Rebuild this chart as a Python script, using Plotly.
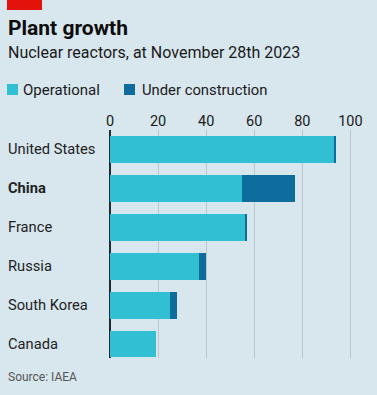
import plotly.graph_objects as go

countries = ["United States", "China", "France", "Russia", "South Korea", "Canada"]
operational = [93, 55, 56, 37, 25, 19]
under_construction = [1, 22, 1, 3, 3, 0]
tick_vals = [0, 20, 40, 60, 80, 100]

W, H = 377, 395
L, R, T, B = 110, 17, 130, 37
PW, PH = W - L - R, H - T - B
BG = "#d8e6ee"
C_OP = "#31c0d3"
C_UC = "#0e6d9d"
FONT = "Roboto"

def px(x):
    return (x - L) / PW

def py(y):
    return (H - B - y) / PH

fig = go.Figure()
fig.add_trace(go.Bar(y=countries, x=operational, orientation="h", name="Operational",
                     marker=dict(color=C_OP, line=dict(width=0)), showlegend=False))
fig.add_trace(go.Bar(y=countries, x=under_construction, orientation="h", name="Under construction",
                     marker=dict(color=C_UC, line=dict(width=0)), showlegend=False))

annotations = []
for c in countries:
    txt = f"<b>{c}</b>" if c == "China" else c
    annotations.append(dict(x=px(6), xref="paper", y=c, yref="y", text=txt, showarrow=False,
                            xanchor="left", yanchor="middle",
                            font=dict(family=FONT, size=14.7, color="#222")))

annotations += [
    dict(x=px(6), y=py(28), xref="paper", yref="paper", text="<b>Plant growth</b>", showarrow=False,
         xanchor="left", yanchor="middle", font=dict(family=FONT, size=21, color="#0d0d0d")),
    dict(x=px(6), y=py(53), xref="paper", yref="paper", text="Nuclear reactors, at November 28th 2023",
         showarrow=False, xanchor="left", yanchor="middle", font=dict(family=FONT, size=16, color="#1a1a1a")),
    dict(x=px(21), y=py(90), xref="paper", yref="paper", text="Operational", showarrow=False,
         xanchor="left", yanchor="middle", font=dict(family=FONT, size=15, color="#1a1a1a")),
    dict(x=px(140), y=py(90), xref="paper", yref="paper", text="Under construction", showarrow=False,
         xanchor="left", yanchor="middle", font=dict(family=FONT, size=14.8, color="#1a1a1a")),
    dict(x=px(6), y=py(377), xref="paper", yref="paper", text="Source: IAEA", showarrow=False,
         xanchor="left", yanchor="middle", font=dict(family=FONT, size=12, color="#555")),
]

shapes = [
    dict(type="rect", xref="paper", yref="paper", x0=px(7), x1=px(42), y0=py(0), y1=py(10),
         fillcolor="#e3120b", line=dict(width=0)),
    dict(type="rect", xref="paper", yref="paper", x0=px(7), x1=px(18), y0=py(84), y1=py(95),
         fillcolor=C_OP, line=dict(width=0)),
    dict(type="rect", xref="paper", yref="paper", x0=px(124), x1=px(135), y0=py(84), y1=py(95),
         fillcolor=C_UC, line=dict(width=0)),
]

fig.update_layout(
    width=W, height=H, barmode="stack", bargap=0.31,
    margin=dict(l=L, r=R, t=T, b=B, pad=0),
    paper_bgcolor=BG, plot_bgcolor=BG,
    annotations=annotations, shapes=shapes,
    xaxis=dict(side="top", range=[0, 104], tickvals=tick_vals, showgrid=True,
               gridcolor="#b9c7cf", gridwidth=1, zeroline=True, zerolinecolor="#1b2a33",
               zerolinewidth=1.5, ticks="", showline=False,
               tickfont=dict(family=FONT, size=14.5, color="#1a1a1a")),
    yaxis=dict(categoryorder="array", categoryarray=countries, range=[5.36, -0.5],
               showticklabels=False, showgrid=False, zeroline=False, ticks=""),
    font=dict(family=FONT),
)

fig.write_html("out.html", config={"displayModeBar": False},
               post_script="document.body.style.margin='0';document.body.style.background='%s';" % BG)
